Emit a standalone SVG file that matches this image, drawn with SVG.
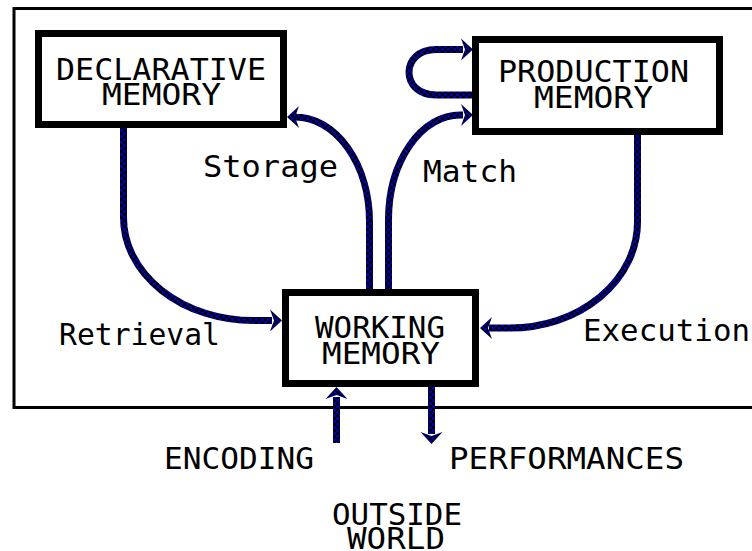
<svg xmlns="http://www.w3.org/2000/svg" xmlns:xlink="http://www.w3.org/1999/xlink" width="752" height="551" viewBox="0 0 752 551">
<style>
.box{fill:#fff;stroke:#000;stroke-width:7}
.frame{fill:none;stroke:#000;stroke-width:3}
.t{font-family:"DejaVu Sans Mono","Liberation Mono",monospace;font-size:31px;fill:#000}
.c{fill:none;stroke:url(#chk);stroke-width:7}
.ah{fill:url(#chk)}
</style>
<defs>
<pattern id="chk" width="6" height="6" patternUnits="userSpaceOnUse">
<rect width="6" height="6" fill="#0000a8"/>
<rect width="3" height="3" fill="#000"/>
<rect x="3" y="3" width="3" height="3" fill="#000"/>
</pattern>
<path id="ah" class="ah" d="M1,0 L-11,-11 L-7,0 L-11,11 Z"/>
</defs>
<rect width="752" height="551" fill="#fff"/>
<rect class="frame" x="14" y="8.5" width="800" height="399"/>

<g id="connectors">
<path class="c" d="M123.5,128 V217 A130,103 0 0 0 253.5,320.5 H272"/>
<use href="#ah" xlink:href="#ah" transform="translate(281,320.5)"/>
<path class="c" d="M369.5,289 V222 A74.5,105 0 0 0 295,117 H297"/>
<use href="#ah" xlink:href="#ah" transform="translate(288,117) rotate(180)"/>
<path class="c" d="M388.5,289 V220 A71.5,105 0 0 1 460,115 H463"/>
<use href="#ah" xlink:href="#ah" transform="translate(472,115)"/>
<path class="c" d="M475,95 H436 C400,95 400,49.5 436,49.5 H463"/>
<use href="#ah" xlink:href="#ah" transform="translate(472,49.5)"/>
<path class="c" d="M637.5,135 V222 A127.5,106 0 0 1 510,328 H489"/>
<use href="#ah" xlink:href="#ah" transform="translate(481,328) rotate(180)"/>
<path class="c" d="M336.5,443 V397"/>
<use href="#ah" xlink:href="#ah" transform="translate(336.5,388) rotate(-90)"/>
<path class="c" d="M431.5,387 V434"/>
<use href="#ah" xlink:href="#ah" transform="translate(431.5,443) rotate(90)"/>
</g>

<g id="declarative">
<rect class="box" x="38.5" y="33.5" width="245" height="91"/>
<text class="t" x="56" y="80" textLength="210" lengthAdjust="spacingAndGlyphs">DECLARATIVE</text>
<text class="t" x="102" y="105" textLength="119" lengthAdjust="spacingAndGlyphs">MEMORY</text>
</g>

<g id="production">
<rect class="box" x="475.5" y="39.5" width="244" height="92"/>
<text class="t" x="498" y="82" textLength="191" lengthAdjust="spacingAndGlyphs">PRODUCTION</text>
<text class="t" x="534" y="108" textLength="119" lengthAdjust="spacingAndGlyphs">MEMORY</text>
</g>

<g id="working">
<rect class="box" x="285.5" y="292.5" width="190" height="91"/>
<text class="t" x="315" y="338" textLength="130" lengthAdjust="spacingAndGlyphs">WORKING</text>
<text class="t" x="322" y="364" textLength="118" lengthAdjust="spacingAndGlyphs">MEMORY</text>
</g>

<g id="labels">
<text class="t" x="203" y="177" textLength="135" lengthAdjust="spacingAndGlyphs">Storage</text>
<text class="t" x="423" y="182" textLength="94" lengthAdjust="spacingAndGlyphs">Match</text>
<text class="t" x="59" y="345" textLength="161" lengthAdjust="spacingAndGlyphs">Retrieval</text>
<text class="t" x="583" y="341" textLength="167" lengthAdjust="spacingAndGlyphs">Execution</text>
<text class="t" x="164" y="469" textLength="150" lengthAdjust="spacingAndGlyphs">ENCODING</text>
<text class="t" x="449" y="469" textLength="235" lengthAdjust="spacingAndGlyphs">PERFORMANCES</text>
</g>

<g id="outside-world">
<text class="t" x="332" y="525" textLength="130" lengthAdjust="spacingAndGlyphs">OUTSIDE</text>
<text class="t" x="347" y="549" textLength="98" lengthAdjust="spacingAndGlyphs">WORLD</text>
</g>
</svg>
